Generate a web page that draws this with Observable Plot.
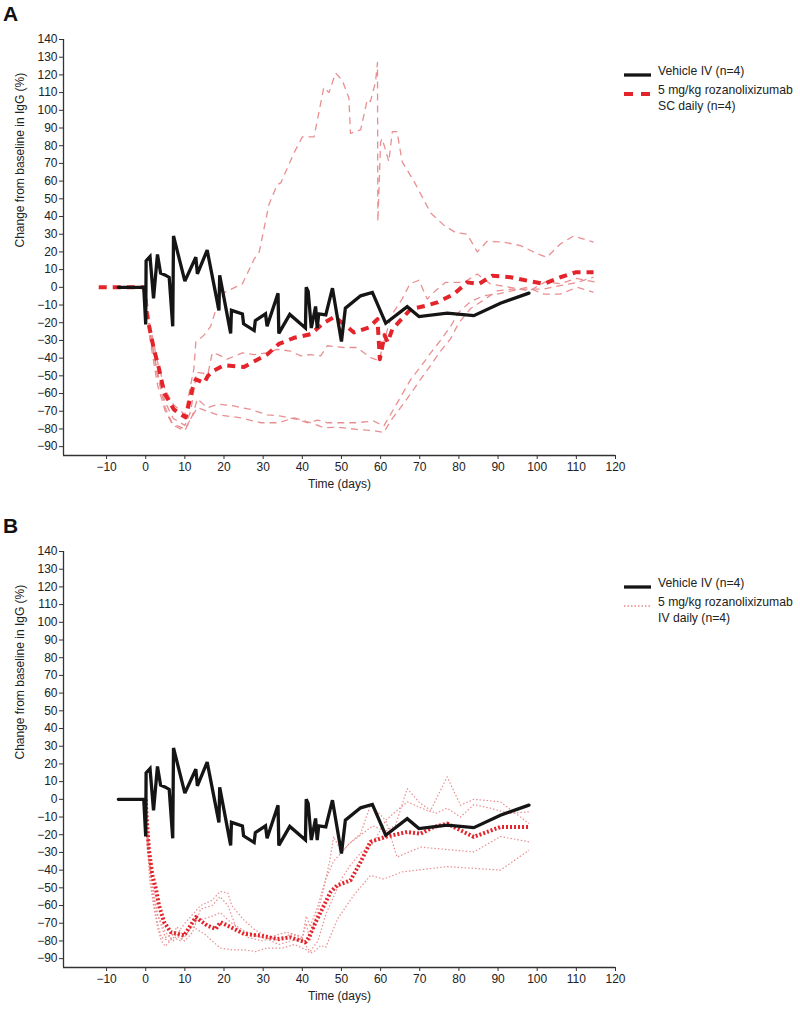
<!DOCTYPE html>
<html>
<head>
<meta charset="utf-8">
<script src="https://cdn.jsdelivr.net/npm/d3@7"></script>
<script src="https://cdn.jsdelivr.net/npm/@observablehq/plot@0.6"></script>
<style>
  body { margin: 0; background: #fff; font-family: "Liberation Sans", Arial, sans-serif; }
  #root { position: relative; width: 800px; height: 1011px; overflow: hidden; }
  .panel { position: absolute; left: 0; width: 800px; height: 505px; }
  .tag { position: absolute; left: 3px; font-weight: bold; font-size: 21px; line-height: 24px; color: #111; }
  .lg { position: absolute; font-size: 12.2px; line-height: 16px; color: #222; white-space: nowrap; }
  .sw { position: absolute; }
</style>
</head>
<body>
<div id="root"></div>
<script>
// ---------- axis settings ----------
const xDomain = [-21, 120];
const yDomain = [-95, 140];
const xTicks = [-10, 0, 10, 20, 30, 40, 50, 60, 70, 80, 90, 100, 110, 120];
const yTicks = [-90, -80, -70, -60, -50, -40, -30, -20, -10, 0, 10, 20, 30, 40, 50, 60, 70, 80, 90, 100, 110, 120, 130, 140];
const xTitle = "Time (days)";
const yTitle = "Change from baseline in IgG (%)";
const panelTags = ["A", "B"];
const legendVehicle = "Vehicle IV (n=4)";
const legendSC = ["5 mg/kg rozanolixizumab", "SC daily (n=4)"];
const legendIV = ["5 mg/kg rozanolixizumab", "IV daily (n=4)"];

// ---------- data: [day, % change] ----------
const vehicle = [[-7,0],[-0.5,0],[0,-21],[0.1,15],[1.1,17.4],[2,-6.2],[3,18.6],[3.8,8],[4.9,7],[6,5.6],[6.9,-22],[7.1,29],[10,3.5],[12.8,17],[13.2,7.6],[15.7,21],[18.7,-13],[18.9,6.8],[21.7,-26],[21.9,-13],[24.7,-15],[25,-20.6],[27.7,-24.4],[28,-18.8],[30.6,-15],[31,-22],[33.8,-3.4],[34,-26],[36.8,-15.3],[40.8,-23],[41,0],[41.5,-2.3],[42.3,-23],[43.4,-10.8],[43.8,-23],[44.2,-15],[46,-15.6],[47.7,-0.5],[50,-30.6],[51,-11.8],[54.9,-4.8],[57.9,-2.9],[61.3,-20.3],[66.8,-10.9],[69.8,-16.5],[77,-14.6],[83.8,-16],[90.6,-9],[97.9,-3.3]];

const scMean = [[-12,0],[-0.3,0],[0,-12],[1,-23.5],[2.1,-35],[3.4,-46],[4.7,-59.5],[7.2,-69],[10.2,-73.5],[11.9,-57.5],[12.8,-52],[14.9,-54],[15.9,-50],[17.4,-47],[20,-44],[25.1,-45],[28,-41.5],[31,-38],[34,-32],[37.9,-28.5],[42.1,-26.5],[45.5,-20],[48,-17],[48.5,-17],[53.2,-25.5],[57,-22.7],[59.2,-18],[59.8,-40.6],[61,-27],[61.8,-31],[63,-23.6],[67.7,-12.3],[71.5,-10.4],[74.5,-8.5],[78.7,-3.8],[82.1,2.8],[85.1,1.9],[88.5,6.6],[93.2,5.7],[97.4,3.8],[101.7,1.9],[105.9,5.7],[109.8,8.5],[114.4,8.5]];

const sc1 = [[0,0],[1,-20],[3,-42],[5,-58],[7,-66],[10,-72],[12.3,-46],[12.8,-31],[14.9,-27],[16.6,-22],[18,-12],[20,-3],[24.7,2],[27.7,16],[29,20],[31.5,47],[33.6,58],[34.5,59],[37.9,76],[40,85],[43,85],[45.5,113],[46.8,110],[48.5,121],[50.2,117],[51.9,107],[52.3,87],[54.9,89],[56.6,106],[57.4,105],[58.7,116],[59.2,127],[59.3,37],[60,82],[60.4,84],[62.1,71],[63,88],[64.2,88],[65.5,71],[68.5,60],[72.8,42],[76.2,35],[79.1,31],[82.1,30],[84.7,20],[87.2,26],[91.5,25.5],[95.7,23.6],[100,19],[102.5,17],[105.9,24.5],[109.3,29],[114.4,25.5]];
const sc2 = [[0,0],[1,-25],[3,-48],[5,-65],[7,-74],[10,-78],[11.5,-70],[13,-48],[15.9,-49],[17,-37],[18.5,-38],[20.8,-40.6],[24.7,-37],[27.7,-38],[31,-37],[33.6,-35],[37,-36],[39.6,-38.7],[42,-38],[44.7,-38.7],[46.4,-33],[50.6,-34],[54,-34],[57.4,-39.7],[59.6,-41.5],[61.3,-27],[63,-15],[65.5,-6.6],[67.5,2],[69.8,4],[71.9,-6.6],[74,-2],[76.6,2.8],[81.3,2.8],[84.7,7.5],[88,2],[93,0],[98,-2],[102,3],[106,2],[110,5],[115,3]];
const sc3 = [[0,0],[1,-28],[3,-55],[5,-70],[7,-78],[10,-81],[12,-72],[13.2,-63],[15.7,-68],[18.7,-66],[22.5,-67],[26.8,-69],[31,-72],[34.5,-72.7],[38.7,-74.6],[41.3,-76.5],[44,-75],[46.4,-76.5],[49,-76.5],[53.6,-76.5],[58.3,-75.6],[60.8,-78.4],[63,-70],[65.1,-62],[67.7,-52],[70.2,-45],[72.8,-37],[75.3,-30],[77.9,-22],[80,-14],[83,-8],[86.4,-4.7],[89.8,-3.8],[93.5,-2],[97.4,0],[101.7,-3.8],[105.9,-3.8],[110.2,0],[114.4,-2.8]];
const sc4 = [[0,0],[1,-22],[3,-50],[5,-68],[6.8,-77],[10,-80],[13.2,-68],[18.3,-72],[24.3,-73.7],[29.4,-76.5],[34,-76.5],[37.9,-73.7],[42.1,-76.5],[45.5,-79.3],[49,-79],[54,-80.3],[58.3,-81],[60.8,-82],[63,-74],[65.1,-68],[67.7,-60],[70.2,-52],[72.8,-44],[75.3,-36],[77.9,-29],[80,-20],[83,-12],[86.4,-7],[89.8,-2],[93.5,-1],[97.4,-1],[101.7,-1],[105.9,1],[110.2,2.8],[114.4,5.7]];

const ivMean = [[0,0],[0.2,-9],[0.8,-28],[1.7,-43],[2.6,-50.5],[3.4,-60],[4.7,-69.4],[6.4,-75],[9.8,-77],[12.8,-66.6],[15.7,-71.3],[17.9,-73.2],[19.1,-69.4],[21.7,-72.2],[25.1,-76],[29.4,-77],[33.6,-78.9],[37,-78],[40.8,-80.7],[41.7,-78],[43.4,-69.4],[45.1,-61.9],[47.2,-52.4],[48.9,-48.6],[52.3,-45.8],[54.9,-35.4],[57.4,-24],[61.3,-21.2],[66.8,-18.4],[70.2,-19.4],[73.6,-15.6],[77,-13.7],[80.4,-17.5],[83.8,-21.2],[87.2,-18.4],[90.6,-15.6],[97.9,-15.6]];

const iv1 = [[0,0],[0.5,-25],[1,-45],[2,-60],[3,-72],[4,-80],[5,-83],[7,-78],[9,-80],[10,-75],[12,-72],[15,-76],[17,-80],[19,-84],[22,-85],[25,-85],[28,-86],[31,-84],[35,-84],[38,-82],[41,-85],[42,-87],[43,-86],[44.7,-82.6],[46,-83.6],[49,-67.5],[53.2,-54],[57.4,-43],[60.8,-45],[65.5,-41],[77,-38],[90.6,-40],[97.9,-28.8]];
const iv2 = [[0,0],[0.5,-15],[1,-35],[2,-55],[3,-65],[5,-75],[7,-80],[9,-73],[10,-70],[12,-65],[14,-60],[17,-57],[19,-52],[21,-53],[22,-60],[25,-68],[28,-74],[31,-77],[34,-80],[37,-76],[40,-78],[41,-70],[42,-80],[43,-70],[45,-55],[47,-35],[48,-21],[50,-30],[52,-25],[54.9,-19.4],[57.4,-3.3],[61.3,-11.8],[66.8,-1.4],[72.6,-7],[77,12.7],[80.4,-3.3],[83.8,0],[90.6,-1.4],[97.9,-13.7]];
const iv3 = [[0,0],[0.5,-20],[1.5,-45],[3,-65],[5,-78],[7,-76],[10,-80],[12,-75],[14,-62],[17,-60],[19,-55],[21,-60],[23,-72],[26,-78],[30,-80],[33,-77],[36,-75],[39,-77],[41,-83],[42,-86],[44,-80],[46,-65],[48,-55],[50,-45],[52,-38],[55,-30],[58,-25],[61.3,-12],[64.2,-32.6],[70.2,-27],[83.8,-29.7],[90.6,-21],[97.9,-24]];
const iv4 = [[0,0],[0.5,-30],[1,-42],[2,-58],[3,-70],[4,-78],[6,-80],[8,-72],[10,-78],[12,-70],[14,-68],[17,-66],[19,-64],[22,-70],[25,-74],[28,-77],[31,-79],[34,-82],[37,-80],[40,-79],[41,-66],[42,-72],[44,-60],[46,-45],[48,-35],[50,-30],[52,-25],[55,-20],[58,-15],[61.3,-18],[63.8,-14.6],[66.8,6],[70,-2],[74,-8],[77,-5],[80.4,-10],[83.8,-3],[88,-5],[93,-8],[97.9,-7]];

// ---------- helpers ----------
const toRows = (pairs, name) => pairs.map(([day, value]) => ({day, value, series: name}));
const fmt = d => d < 0 ? "\u2212" + Math.abs(d) : String(d);

const BLACK = "#151515";
const RED = "#e3242b";
const PINK = "#e8898c";

function panel(indiv, mean, meanDash, thinDash, thinWidth) {
  const indivRows = indiv.flatMap((s, i) => toRows(s, "s" + i));
  return Plot.plot({
    width: 800,
    height: 505,
    marginLeft: 63,
    marginRight: 185,
    marginTop: 39,
    marginBottom: 50,
    style: {fontFamily: "'Liberation Sans', Arial, sans-serif", fontSize: "12px", color: "#222", background: "white", overflow: "visible"},
    x: {domain: xDomain},
    y: {domain: yDomain},
    marks: [
      Plot.axisX({ticks: xTicks, tickSize: 4, tickPadding: 3, tickFormat: fmt, label: null, stroke: "#333"}),
      Plot.axisY({ticks: yTicks, tickSize: 4, tickPadding: 2, tickFormat: fmt, label: null, stroke: "#333"}),
      Plot.ruleY([yDomain[0]], {x1: xDomain[0], x2: xDomain[1], stroke: "#333", strokeWidth: 1.3}),
      Plot.ruleX([xDomain[0]], {y1: yDomain[0], y2: yDomain[1], stroke: "#333", strokeWidth: 1.3}),
      Plot.line(indivRows, {x: "day", y: "value", z: "series", stroke: PINK, strokeWidth: thinWidth, strokeDasharray: thinDash, strokeLinecap: "butt", strokeOpacity: 0.95}),
      Plot.line(toRows(mean, "mean"), {x: "day", y: "value", stroke: RED, strokeWidth: 4, strokeDasharray: meanDash, strokeLinecap: "butt"}),
      Plot.line(toRows(vehicle, "vehicle"), {x: "day", y: "value", stroke: BLACK, strokeWidth: 3.3, strokeLinejoin: "miter", strokeMiterlimit: 3}),
      Plot.text([xTitle], {frameAnchor: "bottom", dy: 32, fill: "#222", fontSize: 12}),
      Plot.text([yTitle], {frameAnchor: "left", rotate: -90, dx: -43, fill: "#222", fontSize: 12})
    ]
  });
}

function addPanel(top, tag, svg, legendLines, sampleSvg) {
  const root = document.getElementById("root");
  const div = document.createElement("div");
  div.className = "panel";
  div.style.top = top + "px";
  div.appendChild(svg);
  const t = document.createElement("div");
  t.className = "tag";
  t.style.top = "2px";
  t.textContent = tag;
  div.appendChild(t);
  const s1 = document.createElement("div");
  s1.className = "sw"; s1.style.left = "622px"; s1.style.top = "66px";
  s1.innerHTML = '<svg width="32" height="10"><line x1="2" y1="5" x2="29" y2="5" stroke="' + BLACK + '" stroke-width="3.3"/></svg>';
  div.appendChild(s1);
  const l1 = document.createElement("div");
  l1.className = "lg"; l1.style.left = "658px"; l1.style.top = "63px";
  l1.textContent = legendVehicle;
  div.appendChild(l1);
  const s2 = document.createElement("div");
  s2.className = "sw"; s2.style.left = "622px"; s2.style.top = "85px";
  s2.innerHTML = sampleSvg;
  div.appendChild(s2);
  const l2 = document.createElement("div");
  l2.className = "lg"; l2.style.left = "658px"; l2.style.top = "82px";
  l2.innerHTML = legendLines.map(s => s.replace(/&/g, "&amp;")).join("<br>");
  div.appendChild(l2);
  root.appendChild(div);
}

addPanel(0, panelTags[0], panel([sc1, sc2, sc3, sc4], scMean, "8,6", "7,5", 1.3), legendSC,
  '<svg width="32" height="10"><line x1="2" y1="5" x2="29" y2="5" stroke="' + RED + '" stroke-width="4" stroke-dasharray="9,8"/></svg>');
addPanel(512, panelTags[1], panel([iv1, iv2, iv3, iv4], ivMean, "2,2", "1.5,2", 1.2), legendIV,
  '<svg width="32" height="10"><line x1="2" y1="5" x2="29" y2="5" stroke="' + PINK + '" stroke-width="1.3" stroke-dasharray="1.5,2"/></svg>');
</script>
</body>
</html>
